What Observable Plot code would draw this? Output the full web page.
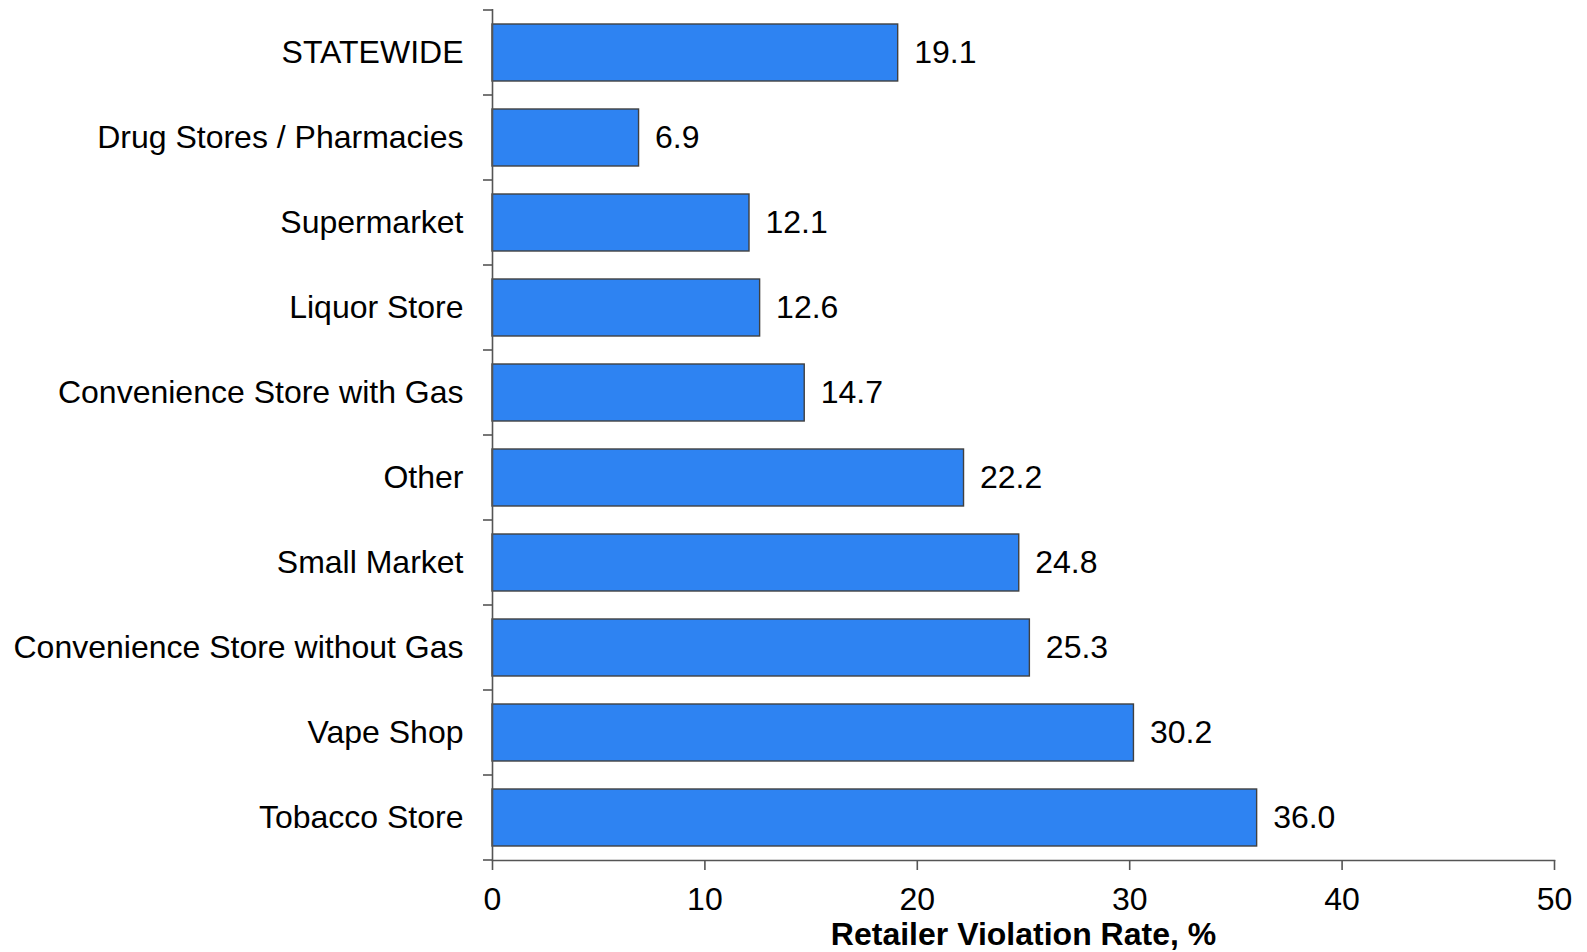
<!DOCTYPE html>
<html>
<head>
<meta charset="utf-8">
<script src="https://cdn.jsdelivr.net/npm/d3@7"></script>
<script src="https://cdn.jsdelivr.net/npm/@observablehq/plot@0.6"></script>
<style>
  html, body { margin: 0; padding: 0; background: #fff; }
  #chart svg { display: block; }
</style>
</head>
<body>
<div id="chart"></div>
<script>
const categories = [
  "STATEWIDE",
  "Drug Stores / Pharmacies",
  "Supermarket",
  "Liquor Store",
  "Convenience Store with Gas",
  "Other",
  "Small Market",
  "Convenience Store without Gas",
  "Vape Shop",
  "Tobacco Store"
];
const rates = [19.1, 6.9, 12.1, 12.6, 14.7, 22.2, 24.8, 25.3, 30.2, 36.0];
const xTicks = [0, 10, 20, 30, 40, 50];
const xLabel = "Retailer Violation Rate, %";

const data = categories.map((c, i) => ({category: c, rate: rates[i]}));

const FONT = "'Liberation Sans', Arial, Helvetica, sans-serif";
const AXIS = "#555555";
const FS = 32;

const chart = Plot.plot({
  width: 1587,
  height: 952,
  marginLeft: 492,
  marginRight: 33,
  marginTop: 9,
  marginBottom: 92,
  style: {fontFamily: FONT, fontSize: FS + "px", color: "#000", background: "#fff"},
  x: {domain: [0, 50], ticks: xTicks},
  y: {domain: categories, paddingInner: 0.33, paddingOuter: 0.165},
  marks: [
    Plot.barX(data, {
      y: "category", x: "rate",
      fill: "#2E83F2", stroke: "#404040", strokeWidth: 1.4
    }),
    Plot.text(data, {
      y: "category", x: "rate",
      text: d => d3.format(".1f")(d.rate),
      textAnchor: "start", dx: 16, fill: "#000", fontSize: FS
    }),
    Plot.ruleX([0], {stroke: AXIS, strokeWidth: 1.6}),
    Plot.frame({anchor: "bottom", stroke: AXIS, strokeWidth: 1.6}),
    Plot.axisX({
      ticks: xTicks, tickSize: 10, tickPadding: 17, label: null,
      stroke: AXIS, strokeWidth: 1.6, fill: "#000", fontSize: FS
    }),
    Plot.axisY({
      tickSize: 0, tickPadding: 29, label: null, fill: "#000", fontSize: FS
    }),
    Plot.text([xLabel], {
      frameAnchor: "bottom", dy: 74, text: d => d,
      fontWeight: "bold", fontSize: FS, fill: "#000", lineAnchor: "middle"
    })
  ]
});

// Band-boundary ticks on the y axis, placed from the library's own band scale
const ys = chart.scale("y");
const xs = chart.scale("x");
const x0 = xs.apply(0);
const gap = ys.step - ys.bandwidth;
const bounds = categories.map(c => ys.apply(c) - gap / 2);
bounds.push(ys.apply(categories[categories.length - 1]) + ys.bandwidth + gap / 2);
d3.select(chart).append("g")
  .attr("stroke", AXIS).attr("stroke-width", 1.6)
  .selectAll("line").data(bounds).join("line")
  .attr("x1", x0 - 9).attr("x2", x0)
  .attr("y1", d => d).attr("y2", d => d);

document.getElementById("chart").appendChild(chart);
</script>
</body>
</html>
